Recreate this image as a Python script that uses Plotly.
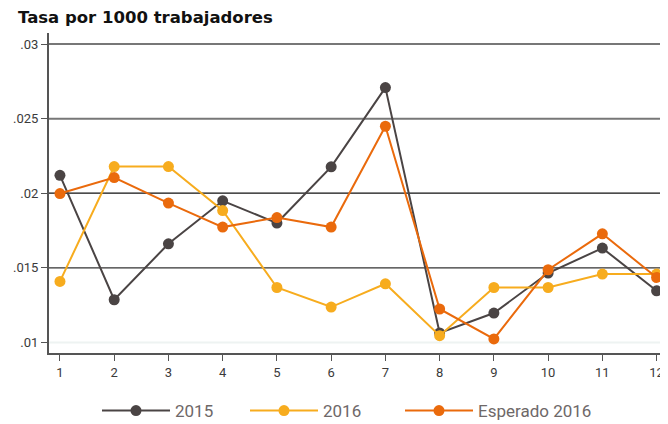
import plotly.graph_objects as go

months = [1, 2, 3, 4, 5, 6, 7, 8, 9, 10, 11, 12]
s2015 = [0.0212, 0.01286, 0.01661, 0.01949, 0.0180, 0.02177, 0.02708, 0.01063, 0.01197, 0.01465, 0.01632, 0.01346]
s2016 = [0.01409, 0.02179, 0.02179, 0.01884, 0.01368, 0.01237, 0.01393, 0.01045, 0.01368, 0.01368, 0.01458, 0.01458]
esperado = [0.01998, 0.02105, 0.01934, 0.01773, 0.01837, 0.01773, 0.02449, 0.01224, 0.01023, 0.01487, 0.01728, 0.01435]
series_names = ["2015", "2016", "Esperado 2016"]
ytick_vals = [0.01, 0.015, 0.02, 0.025, 0.03]
ytick_text = [".01", ".015", ".02", ".025", ".03"]

colors = ["#4a4444", "#f7ac1e", "#ea6a0c"]
font = "Roboto"

# page body has an 8px margin: figure is sized/offset to compensate
W, H = 660, 416
L, R, T = 41, 0, 25
plot_h = 320
B = H - T - plot_h
plot_w = W - L - R

legend_ids = ["legend", "legend2", "legend3"]
legend_starts = [97, 245, 400]  # page px where each legend box starts

fig = go.Figure()
for name, vals, c, lid in zip(series_names, [s2015, s2016, esperado], colors, legend_ids):
    fig.add_trace(go.Scatter(x=months, y=vals, name=name, mode="lines+markers",
                             line=dict(color=c, width=2),
                             marker=dict(color=c, size=11), legend=lid))

grid_styles = {0.01: ("#eef3f2", 2), 0.015: ("#333333", 1.2), 0.02: ("#111111", 1.2),
               0.025: ("#777777", 2), 0.03: ("#777777", 2)}
for v in ytick_vals:
    col, w = grid_styles[v]
    fig.add_shape(type="line", xref="paper", x0=0, x1=1, yref="y", y0=v, y1=v,
                  line=dict(color=col, width=w), layer="below")

leg_y = -(403 - (T + plot_h))/plot_h
legend_layouts = {}
for lid, xs in zip(legend_ids, legend_starts):
    legend_layouts[lid] = dict(orientation="h", x=(xs - 8 - L)/plot_w, xanchor="left",
                               y=leg_y, yanchor="middle",
                               font=dict(size=17, color="#6e6868"), itemwidth=68)

fig.update_layout(
    width=W, height=H,
    margin=dict(l=L, r=R, t=T, b=B, pad=0, autoexpand=False),
    paper_bgcolor="white", plot_bgcolor="white",
    font=dict(family=font, color="#3a3a3a", size=13),
    title=dict(text="Tasa por 1000 trabajadores", x=10/W, xanchor="left",
               y=1-9/H, yanchor="middle",
               font=dict(family="DejaVu Sans", size=16.5, color="#111111", weight="bold")),
    showlegend=True,
    xaxis=dict(range=[0.798, 12.21], tickvals=months, ticktext=[str(m) for m in months],
               showgrid=False, zeroline=False, showline=True, linecolor="#555555",
               linewidth=2, ticks="outside", ticklen=6, tickcolor="#555555",
               automargin=False, ticklabeloverflow="allow",
               tickfont=dict(size=13, color="#3a3a3a")),
    yaxis=dict(range=[0.00929, 0.03074], tickvals=ytick_vals, ticktext=ytick_text,
               showgrid=False, zeroline=False, showline=True, linecolor="#555555",
               linewidth=2, ticks="outside", ticklen=6, tickcolor="#555555",
               automargin=False, ticklabeloverflow="allow",
               tickfont=dict(size=13, color="#3a3a3a")),
    **legend_layouts,
)

fig.write_html("out.html")
